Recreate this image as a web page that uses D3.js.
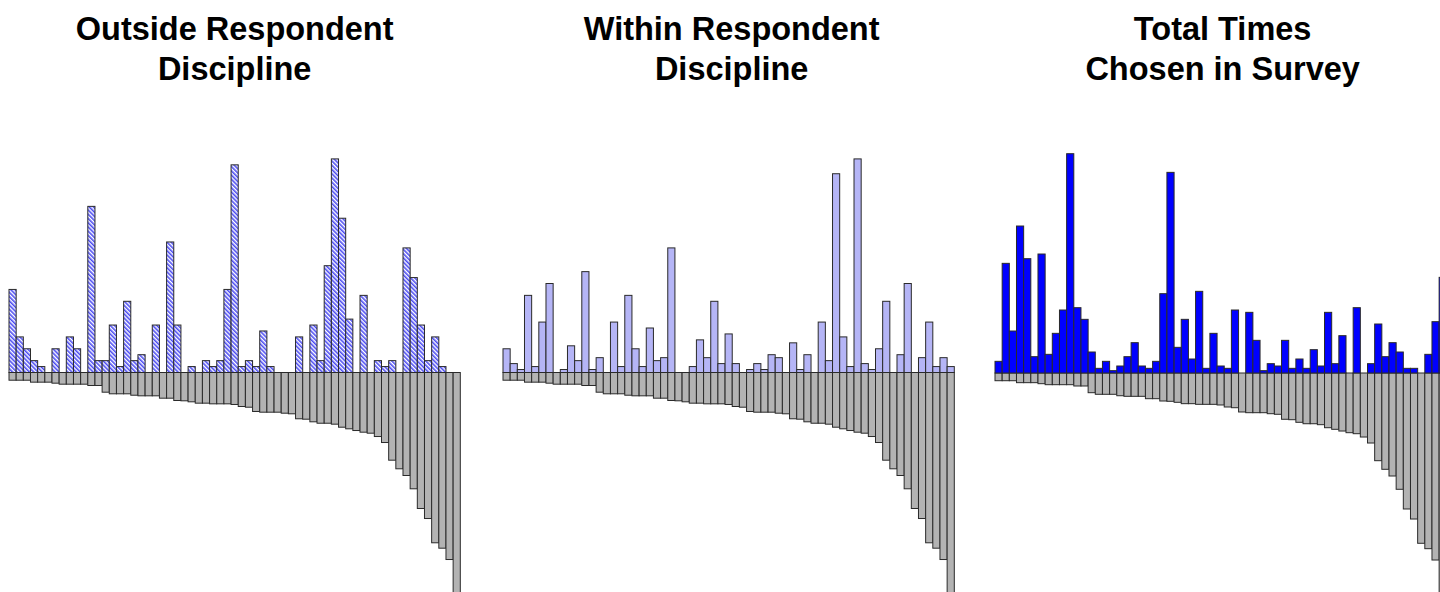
<!DOCTYPE html>
<html>
<head>
<meta charset="utf-8">
<script src="https://cdn.jsdelivr.net/npm/d3@7"></script>
<style>
  html, body { margin: 0; padding: 0; background: #ffffff; }
  svg { display: block; }
  .title { font-family: "Liberation Sans", Arial, Helvetica, sans-serif; font-weight: bold; font-size: 32.5px; fill: #000; }
</style>
</head>
<body>
<svg id="chart" width="1440" height="592"></svg>
<script>
// Disciplines are ordered by the grey (downward) measure, smallest first.
const disciplines = d3.range(1, 64).map(i => "D" + i);

// Times a discipline was picked by respondents outside it
const outsideCounts = [14,6,4,2,1,0,4,0,6,4, 0,28,2,2,8,1,12,2,3,0, 8,0,22,8,0,1,0,2,1,2,
  14,35,1,2,1,7,1,0,0,0, 6,0,8,2,18,36,26,9,0,13, 0,2,1,2,0,21,16,8,2,6, 1,0,0];

// Times a discipline was picked by respondents within it
const withinCounts = [8,3,1,26,2,17,30,0,1,9, 4,34,1,5,0,17,2,26,8,2, 15,4,5,42,0,0,2,11,5,24,
  3,13,3,0,1,3,1,6,5,0, 10,1,6,0,17,4,67,12,2,72, 3,1,8,24,0,6,30,0,5,17, 2,5,2];

// Total times a discipline was chosen in the survey
const totalCounts = [5,47,18,63,49,7,51,8,17,27, 94,28,23,9,2,5,1,3,7,13, 3,2,5,34,86,11,23,6,35,2,
  17,3,2,27,0,26,14,1,4,3, 14,2,6,2,10,3,26,4,16,0, 28,0,4,21,7,13,9,2,2,0, 8,22,41];

// Downward grey measure, shared by all three panels
const greyValues = [1.30,1.30,1.30,1.63,1.63,1.63,1.80,1.97,1.97,1.97, 1.97,2.19,2.19,3.32,3.59,3.59,3.59,3.83,3.93,3.93,
  3.93,4.33,4.33,4.72,4.77,4.94,5.17,5.17,5.28,5.28, 5.28,5.39,5.73,5.85,6.57,6.69,6.69,6.69,6.86,6.96,
  7.80,7.87,8.31,8.55,8.55,8.71,9.22,9.49,9.78,10.06, 10.23,10.79,11.80,14.78,16.23,17.36,19.60,22.92,24.61,28.70,
  29.61,31.52,40.0];

const panelTitles = [
  ["Outside Respondent", "Discipline"],
  ["Within Respondent", "Discipline"],
  ["Total Times", "Chosen in Survey"]
];

const svg = d3.select("#chart");
const defs = svg.append("defs");

// Diagonal hatch used by the first panel
const hatch = defs.append("pattern")
  .attr("id", "hatch")
  .attr("patternUnits", "userSpaceOnUse")
  .attr("width", 3).attr("height", 3)
  .attr("patternTransform", "rotate(-45)");
hatch.append("rect").attr("width", 3).attr("height", 3).attr("fill", "#ffffff");
hatch.append("rect").attr("x", 0).attr("y", 0).attr("width", 1.6).attr("height", 3).attr("fill", "#4b4bf2");

const panels = [
  { values: outsideCounts, x0: 9,   baseline: 372.5, max: 36, top: 158.9, fill: "url(#hatch)", titleShift: 0 },
  { values: withinCounts,  x0: 503, baseline: 372.5, max: 72, top: 158.9, fill: "#b5b5f6",     titleShift: 3 },
  { values: totalCounts,   x0: 995, baseline: 373,   max: 94, top: 153.7, fill: "#0000ff",     titleShift: 2 }
];

const panelWidth = 451.3;
const greyUnitPx = 213.6 / 36;

panels.forEach((p, i) => {
  const g = svg.append("g");

  const x = d3.scaleBand()
    .domain(disciplines)
    .range([p.x0, p.x0 + panelWidth])
    .paddingInner(0).paddingOuter(0);

  const yUp = d3.scaleLinear().domain([0, p.max]).range([p.baseline, p.top]);
  const yDown = d3.scaleLinear().domain([0, 36]).range([p.baseline, p.baseline + 36 * greyUnitPx]);

  // grey bars below the baseline
  g.selectAll("rect.neg")
    .data(greyValues)
    .join("rect")
    .attr("class", "neg")
    .attr("x", (d, k) => x(disciplines[k]))
    .attr("y", p.baseline)
    .attr("width", x.bandwidth())
    .attr("height", d => yDown(d) - p.baseline)
    .attr("fill", "#b3b3b3")
    .attr("stroke", "#2a2a2a")
    .attr("stroke-width", 1);

  // counts above the baseline
  g.selectAll("rect.pos")
    .data(p.values.map((v, k) => ({ v, k })).filter(d => d.v > 0))
    .join("rect")
    .attr("class", "pos")
    .attr("x", d => x(disciplines[d.k]))
    .attr("y", d => yUp(d.v))
    .attr("width", x.bandwidth())
    .attr("height", d => p.baseline - yUp(d.v))
    .attr("fill", p.fill)
    .attr("stroke", "#2a2a2a")
    .attr("stroke-width", 1);

  // two-line title centred over the panel
  const cx = p.x0 + panelWidth / 2 + p.titleShift;
  const t = svg.append("text").attr("class", "title").attr("text-anchor", "middle");
  panelTitles[i].forEach((line, j) => {
    t.append("tspan").attr("x", cx).attr("y", 40 + j * 40).text(line);
  });
});
</script>
</body>
</html>
